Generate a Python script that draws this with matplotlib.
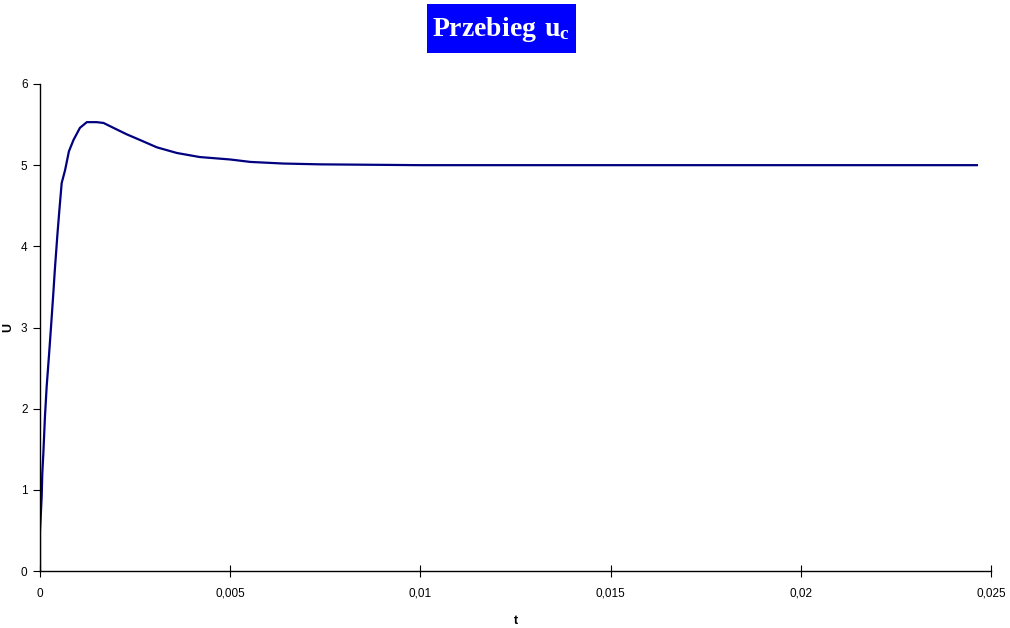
import matplotlib
matplotlib.use('Agg')
import matplotlib.pyplot as plt
import matplotlib.patches as mpatches
from matplotlib.ticker import FuncFormatter

plt.rcParams['font.family'] = 'Liberation Sans'
plt.rcParams['mathtext.fontset'] = 'custom'
plt.rcParams['mathtext.rm'] = 'Liberation Serif'
plt.rcParams['mathtext.bf'] = 'Liberation Serif:bold'

# capacitor voltage transient
t = [0, 0.0, 4.4e-5, 6e-5, 8.8e-5, 1.3e-4, 1.75e-4, 2.4e-4, 2.9e-4, 3.5e-4,
     3.9e-4, 4.6e-4, 5.1e-4, 5.7e-4, 6.6e-4, 7.6e-4, 8.8e-4, 1.05e-3, 1.23e-3,
     1.49e-3, 1.67e-3, 1.93e-3, 2.28e-3, 2.63e-3, 3.07e-3, 3.6e-3, 4.2e-3,
     5.0e-3, 5.53e-3, 6.4e-3, 7.37e-3, 0.0100, 0.0150, 0.0200, 0.02463]
u = [0, 0.485, 0.92, 1.2, 1.45, 1.9, 2.27, 2.68, 3.01, 3.42,
     3.71, 4.16, 4.45, 4.78, 4.94, 5.17, 5.31, 5.46, 5.53,
     5.53, 5.52, 5.46, 5.38, 5.31, 5.22, 5.15, 5.10,
     5.07, 5.04, 5.02, 5.01, 5.0, 5.0, 5.0, 5.0]

x_ticks = [0, 0.005, 0.01, 0.015, 0.02, 0.025]
y_ticks = [0, 1, 2, 3, 4, 5, 6]

fig = plt.figure(figsize=(10.1, 6.28), dpi=100)
ax = fig.add_axes([40 / 1010, 1 - 571 / 628, 951 / 1010, 487 / 628])

ax.plot(t, u, color='#000080', linewidth=1.6)

ax.set_xlim(0, 0.025)
ax.set_ylim(0, 6)
ax.set_xticks(x_ticks)
ax.set_yticks(y_ticks)
ax.xaxis.set_major_formatter(FuncFormatter(lambda v, p: ('%g' % v).replace('.', ',')))
ax.tick_params(axis='x', direction='inout', length=8, labelsize=8.5, pad=8)
ax.tick_params(axis='y', direction='out', length=5, labelsize=8.5, pad=4)
for side in ('top', 'right'):
    ax.spines[side].set_visible(False)
for side in ('left', 'bottom'):
    ax.spines[side].set_linewidth(1.0)

ax.set_xlabel('t', fontsize=9, fontweight='bold', labelpad=11)
ax.set_ylabel('U', fontsize=9, fontweight='bold')
ax.yaxis.set_label_coords(-0.027, 0.5)

# title in a blue box
fig.patches.append(mpatches.Rectangle((427 / 1010, 1 - 53 / 628), 149 / 1010, 49 / 628,
                                      transform=fig.transFigure, facecolor='#0000FF',
                                      edgecolor='none'))
fig.text(501 / 1010, 1 - 29 / 628, r'$\mathbf{Przebieg\ u_c}$', color='white',
         fontsize=20, ha='center', va='center')

plt.savefig('out.png', dpi=100, facecolor='white')
plt.close()
